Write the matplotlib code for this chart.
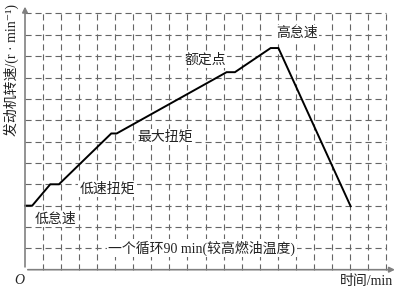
import matplotlib.pyplot as plt

plt.rcParams['font.family'] = ['Liberation Serif', 'Noto Sans CJK SC', 'DejaVu Sans']

# Engine speed cycle (grid units)
time_pts = [0, 0.4, 1.4, 1.88, 4.78, 5.08, 11.17, 11.63, 13.61, 14.04, 18.04]
speed_pts = [3, 3, 4, 4, 6.38, 6.38, 9.25, 9.25, 10.38, 10.38, 2.97]

labels = ['低怠速', '低速扭矩', '最大扭矩', '额定点', '高怠速']
label_x = [1.69, 4.57, 7.78, 9.97, 15.05]
label_y = [2.37, 3.78, 6.22, 9.82, 11.07]

n_cols = 20
n_rows = 12

fig = plt.figure(figsize=(3.99, 2.88), dpi=100)
ax = fig.add_axes([0, 0, 1, 1])
ax.set_xlim(-1.385, 20.72)
ax.set_ylim(-0.857, 12.63)
ax.axis('off')

grid_kw = dict(color='#666666', lw=0.8, ls=(0, (5.5, 3.5)))
for i in range(1, n_rows + 1):
    ax.plot([0, n_cols], [i, i], **grid_kw)
for j in range(1, n_cols + 1):
    ax.plot([j, j], [0, n_rows], **grid_kw)

# axes with arrows
arrow_kw = dict(arrowstyle='-|>', color='#808080', lw=1.2, mutation_scale=8)
ax.annotate('', xy=(0, 12.45), xytext=(0, 0), arrowprops=arrow_kw)
ax.annotate('', xy=(20.65, 0), xytext=(0, 0), arrowprops=arrow_kw)

ax.plot(time_pts, speed_pts, color='black', lw=1.4, solid_joinstyle='miter')

box = dict(facecolor='white', edgecolor='none', pad=1)
for t, x, y in zip(labels, label_x, label_y):
    ax.text(x, y, t, ha='center', va='center', fontsize=10, color='#222222', bbox=box)

ax.text(9.8, 1.02, '一个循环90 min(较高燃油温度)', ha='center', va='center',
        fontsize=10, color='#222222', bbox=box)
ax.text(18.9, -0.55, '时间/min', ha='center', va='center', fontsize=10, color='#222222')
ax.text(-0.3, -0.5, 'O', ha='center', va='center', fontsize=10, style='italic', color='#222222')
ax.text(-0.75, 9.35, '发动机转速/(r · min⁻¹)', ha='center', va='center',
        rotation=90, fontsize=10, color='#222222')

fig.savefig('out.png', dpi=100)
